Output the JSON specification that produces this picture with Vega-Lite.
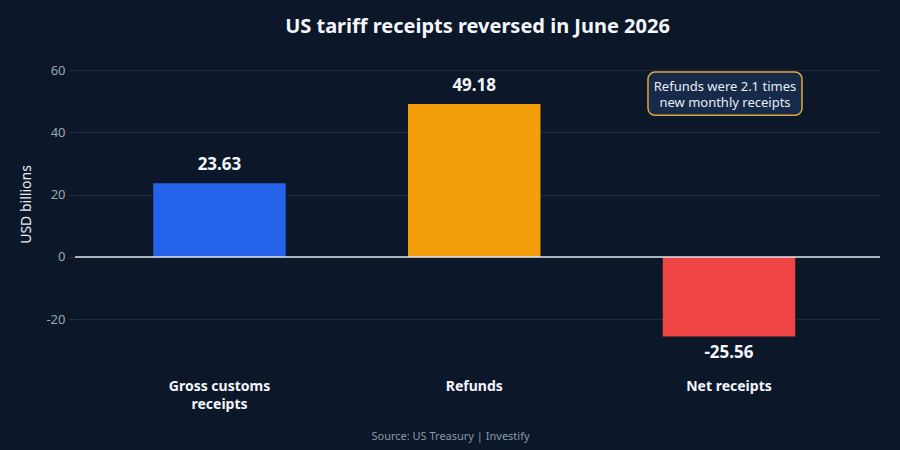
{
  "$schema": "https://vega.github.io/schema/vega-lite/v6.json",
  "autosize": {"type": "none"},
  "width": 805,
  "height": 280,
  "padding": {"left": 75, "top": 64, "right": 20, "bottom": 106},
  "background": "#0c1729",
  "config": {
    "view": {"stroke": null},
    "font": "Noto Sans"
  },
  "title": {
    "text": "US tariff receipts reversed in June 2026",
    "fontSize": 20,
    "fontWeight": "bold",
    "color": "#f3f6fa",
    "anchor": "middle",
    "offset": 27,
    "font": "Noto Sans"
  },
  "datasets": {
    "receipts": [
      {"category": "Gross customs receipts", "value": 23.63},
      {"category": "Refunds", "value": 49.18},
      {"category": "Net receipts", "value": -25.56}
    ],
    "note": [
      {"category": "Net receipts", "text": "Refunds were 2.1 times\nnew monthly receipts"}
    ]
  },
  "layer": [
    {
      "data": {"name": "receipts"},
      "mark": {"type": "bar"},
      "encoding": {
        "x": {
          "field": "category",
          "type": "nominal",
          "sort": null,
          "scale": {"paddingInner": 0.48, "paddingOuter": 0.32, "align": 0.48},
          "axis": {
            "labelAngle": 0,
            "labelFontSize": 14,
            "labelFontWeight": "bold",
            "labelColor": "#f3f6fa",
            "labelPadding": 35,
            "labelExpr": "datum.label == 'Gross customs receipts' ? ['Gross customs', 'receipts'] : datum.label",
            "labelLineHeight": 18,
            "ticks": false,
            "domain": false,
            "title": "Source: US Treasury | Investify",
            "titleFontSize": 11,
            "titleFontWeight": "normal",
            "titleColor": "#8a97a8",
            "titleX": 375,
            "titleY": 86
          }
        },
        "y": {
          "field": "value",
          "type": "quantitative",
          "scale": {"domain": [-28, 62], "nice": false, "zero": false},
          "axis": {
            "values": [-20, 0, 20, 40, 60],
            "labelExpr": "replace(datum.label, '\u2212', '-')",
            "title": "USD billions",
            "titleFontSize": 14,
            "titleFontWeight": "normal",
            "titleColor": "#e6edf3",
            "titlePadding": 12,
            "labelFontSize": 13,
            "labelColor": "#9aa6b6",
            "labelPadding": 4,
            "tickColor": "#2a3648",
            "tickSize": 6,
            "gridColor": "#1f2b3d",
            "domain": false
          }
        },
        "color": {
          "field": "category",
          "type": "nominal",
          "scale": {
            "domain": ["Gross customs receipts", "Refunds", "Net receipts"],
            "range": ["#2563eb", "#f59e0b", "#ef4444"]
          },
          "legend": null
        }
      }
    },
    {
      "data": {"name": "note"},
      "mark": {"type": "rule", "color": "#dfe6ee", "strokeWidth": 1.5},
      "encoding": {"y": {"datum": 0}}
    },
    {
      "data": {"name": "receipts"},
      "transform": [
        {"filter": "datum.value >= 0"},
        {"calculate": "replace(format(datum.value, '.2f'), '\u2212', '-')", "as": "valueLabel"}
      ],
      "mark": {"type": "text", "baseline": "bottom", "dy": -9, "fontSize": 17, "fontWeight": "bold", "color": "#f3f6fa"},
      "encoding": {
        "x": {"field": "category", "type": "nominal", "sort": null},
        "y": {"field": "value", "type": "quantitative"},
        "text": {"field": "valueLabel", "type": "nominal"}
      }
    },
    {
      "data": {"name": "receipts"},
      "transform": [
        {"filter": "datum.value < 0"},
        {"calculate": "replace(format(datum.value, '.2f'), '\u2212', '-')", "as": "valueLabel"}
      ],
      "mark": {"type": "text", "baseline": "top", "dy": 9, "fontSize": 17, "fontWeight": "bold", "color": "#f3f6fa"},
      "encoding": {
        "x": {"field": "category", "type": "nominal", "sort": null},
        "y": {"field": "value", "type": "quantitative"},
        "text": {"field": "valueLabel", "type": "nominal"}
      }
    },
    {
      "data": {"name": "note"},
      "mark": {"type": "bar", "width": 154, "cornerRadius": 7, "fill": "#172a4a", "stroke": "#d9a93a", "strokeWidth": 1.5, "xOffset": -4},
      "encoding": {
        "x": {"field": "category", "type": "nominal", "sort": null},
        "y": {"datum": 59.4},
        "y2": {"datum": 45.5}
      }
    },
    {
      "data": {"name": "note"},
      "mark": {"type": "text", "lineBreak": "\n", "fontSize": 13, "fontWeight": "normal", "color": "#e6edf3", "baseline": "middle", "lineHeight": 16, "dx": -4},
      "encoding": {
        "x": {"field": "category", "type": "nominal", "sort": null},
        "y": {"datum": 54.6},
        "text": {"field": "text", "type": "nominal"}
      }
    }
  ]
}
